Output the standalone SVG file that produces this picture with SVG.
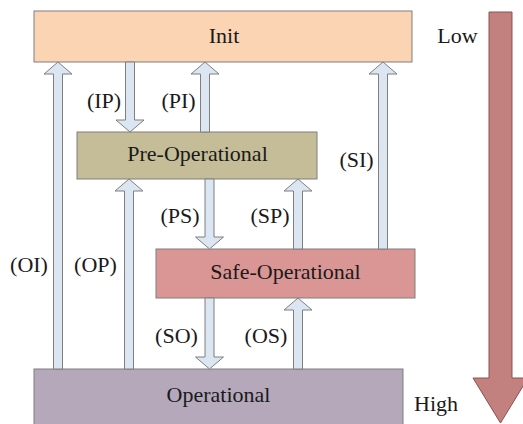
<svg xmlns="http://www.w3.org/2000/svg" width="523" height="424" viewBox="0 0 523 424">
<style>
.box{stroke:#7f7f7f;stroke-width:1}
.t{font-family:"Liberation Serif","Times New Roman",serif;font-size:22px;fill:#1a1a1a;text-anchor:middle}
.arr{fill:#dce6f2;stroke:#7f7f7f;stroke-width:1;stroke-linejoin:miter}
</style>
<rect width="523" height="424" fill="#ffffff"/>
<g id="level-arrow">
<polygon points="489,12 512,12 512,378 528,378 500.5,423 473,378 489,378" fill="#c2807f" stroke="#8b5050" stroke-width="1"/>
<text class="t" x="457.5" y="43">Low</text>
<text class="t" x="436" y="411">High</text>
</g>
<g id="init">
<rect class="box" x="34" y="11" width="378" height="51" fill="#fbd4b4"/>
<text class="t" x="224" y="43">Init</text>
</g>
<g id="preop">
<rect class="box" x="77" y="132" width="240" height="47" fill="#c4bd97"/>
<text class="t" x="197.5" y="161">Pre-Operational</text>
</g>
<g id="safeop">
<rect class="box" x="156" y="249" width="259" height="49" fill="#da9694"/>
<text class="t" x="285.5" y="279">Safe-Operational</text>
</g>
<g id="op">
<rect class="box" x="34" y="369" width="369" height="60" fill="#b4a8ba"/>
<text class="t" x="218.5" y="402">Operational</text>
</g>
<g id="connectors">
<!-- OI up -->
<polygon class="arr" points="53.5,369 53.5,74 44,74 58,62 72,74 62.5,74 62.5,369"/>
<!-- IP down -->
<polygon class="arr" points="125.5,62 125.5,120 116,120 130,132 144,120 134.5,120 134.5,62"/>
<!-- PI up -->
<polygon class="arr" points="200.5,132 200.5,74 191,74 205,62 219,74 209.5,74 209.5,132"/>
<!-- OP up -->
<polygon class="arr" points="124.5,369 124.5,191 115,191 129,179 143,191 133.5,191 133.5,369"/>
<!-- PS down -->
<polygon class="arr" points="205,179 205,237 195.5,237 209.5,249 223.5,237 214,237 214,179"/>
<!-- SP up -->
<polygon class="arr" points="293.5,249 293.5,191 284,191 298,179 312,191 302.5,191 302.5,249"/>
<!-- SI up -->
<polygon class="arr" points="378.5,249 378.5,74 369,74 383,62 397,74 387.5,74 387.5,249"/>
<!-- SO down -->
<polygon class="arr" points="205,298 205,357 195.5,357 209.5,369 223.5,357 214,357 214,298"/>
<!-- OS up -->
<polygon class="arr" points="293.5,369 293.5,310 284,310 298,298 312,310 302.5,310 302.5,369"/>
<text class="t" x="104" y="108">(IP)</text>
<text class="t" x="178.5" y="108">(PI)</text>
<text class="t" x="180" y="223">(PS)</text>
<text class="t" x="270" y="223">(SP)</text>
<text class="t" x="176.5" y="343">(SO)</text>
<text class="t" x="266" y="343">(OS)</text>
<text class="t" x="29" y="272">(OI)</text>
<text class="t" x="95.5" y="272">(OP)</text>
<text class="t" x="356.5" y="167">(SI)</text>
</g>
</svg>
